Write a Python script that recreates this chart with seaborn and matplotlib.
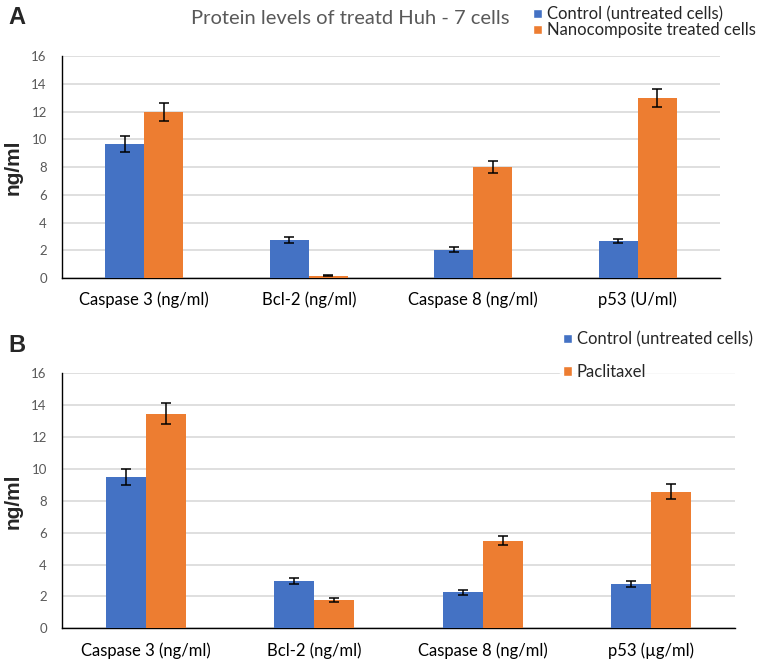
import matplotlib
matplotlib.use('Agg')
import matplotlib.pyplot as plt
from matplotlib.patches import Patch
import seaborn as sns
import numpy as np
import pandas as pd

# data
markers_a = ['Caspase 3 (ng/ml)', 'Bcl-2 (ng/ml)', 'Caspase 8 (ng/ml)', 'p53 (U/ml)']
control_a = [9.65, 2.75, 2.05, 2.67]
control_a_err = [0.6, 0.22, 0.15, 0.15]
nano_a = [11.97, 0.17, 8.0, 13.0]
nano_a_err = [0.65, 0.05, 0.42, 0.65]

markers_b = ['Caspase 3 (ng/ml)', 'Bcl-2 (ng/ml)', 'Caspase 8 (ng/ml)', 'p53 (µg/ml)']
control_b = [9.5, 2.95, 2.25, 2.77]
control_b_err = [0.52, 0.2, 0.15, 0.17]
pacli_b = [13.47, 1.78, 5.5, 8.57]
pacli_b_err = [0.68, 0.1, 0.28, 0.47]

BLUE = '#4472C4'
ORANGE = '#ED7D31'
GREY = '#595959'

sns.set_theme(style='white')
plt.rcParams['font.family'] = ['Lato', 'DejaVu Sans']


def draw_panel(ax, markers, ctrl, ctrl_err, trt, trt_err, trt_name):
    df = pd.DataFrame({
        'marker': markers * 2,
        'value': ctrl + trt,
        'err': ctrl_err + trt_err,
        'group': ['Control (untreated cells)'] * len(markers) + [trt_name] * len(markers),
    })
    sns.barplot(data=df, x='marker', y='value', hue='group', order=markers,
                palette=[BLUE, ORANGE], width=0.475, errorbar=None,
                legend=False, ax=ax, zorder=3, saturation=1, linewidth=0)
    # error bars on top of each bar
    bars = [p for p in ax.patches][:len(df)]
    for bar, e in zip(bars, df['err']):
        xc = bar.get_x() + bar.get_width() / 2
        ax.errorbar(xc, bar.get_height(), yerr=e, fmt='none', ecolor='black',
                    elinewidth=1.1, capsize=3.5, capthick=1.1, zorder=4)
    ax.set_ylim(0, 16)
    ax.set_xlim(-0.5, len(markers) - 0.5)
    ax.set_yticks(np.arange(0, 17, 2))
    ax.yaxis.grid(True, color='#D9D9D9', linewidth=1.2, zorder=0)
    ax.set_axisbelow(True)
    for s in ['top', 'right']:
        ax.spines[s].set_visible(False)
    ax.spines['left'].set_color('black')
    ax.spines['left'].set_linewidth(1.0)
    ax.spines['bottom'].set_color('black')
    ax.spines['bottom'].set_linewidth(1.0)
    ax.tick_params(axis='x', length=0, pad=10, labelsize=12, labelcolor='black')
    ax.tick_params(axis='y', length=0, pad=11, labelsize=9.5, labelcolor=GREY)
    ax.set_xlabel('')
    ax.set_ylabel('ng/ml', fontsize=15, fontweight='bold', family='Liberation Sans')
    ax.yaxis.set_label_coords(-39 / ax.bbox.width, 0.5)


fig = plt.figure(figsize=(7.63, 6.63), dpi=100)
ax_a = fig.add_axes([0.0813, 0.5807, 0.8624, 0.3348])
ax_b = fig.add_axes([0.0813, 0.0523, 0.882, 0.3846])

draw_panel(ax_a, markers_a, control_a, control_a_err, nano_a, nano_a_err,
           'Nanocomposite treated cells')
draw_panel(ax_b, markers_b, control_b, control_b_err, pacli_b, pacli_b_err,
           'Paclitaxel')

fig.text(350 / 763, 1 - 19 / 663, 'Protein levels of treatd Huh - 7 cells',
         ha='center', va='center', fontsize=14.5, color=GREY)
fig.text(8 / 763, 1 - 18 / 663, 'A', ha='left', va='center', fontsize=17,
         fontweight='bold', family='Liberation Sans')
fig.text(8 / 763, 1 - 345 / 663, 'B', ha='left', va='center', fontsize=17,
         fontweight='bold', family='Liberation Sans')

handles_a = [Patch(facecolor=BLUE, label='Control (untreated cells)'),
             Patch(facecolor=ORANGE, label='Nanocomposite treated cells')]
fig.legend(handles=handles_a, loc='upper left', bbox_to_anchor=(530 / 763, 1 - 3 / 663),
           frameon=False, fontsize=12, handlelength=0.5, handleheight=0.5,
           handletextpad=0.3, labelspacing=0.0, borderaxespad=0.0, borderpad=0.2)

handles_b = [Patch(facecolor=BLUE, label='Control (untreated cells)'),
             Patch(facecolor=ORANGE, label='Paclitaxel')]
leg_b = fig.legend(handles=handles_b, loc='upper left', bbox_to_anchor=(560 / 763, 1 - 328 / 663),
                   frameon=True, fontsize=12, handlelength=0.5, handleheight=0.5,
                   handletextpad=0.3, labelspacing=1.0, borderaxespad=0.0, borderpad=0.2)
leg_b.get_frame().set_facecolor('white')
leg_b.get_frame().set_edgecolor('white')

fig.savefig('out.png', dpi=100)
